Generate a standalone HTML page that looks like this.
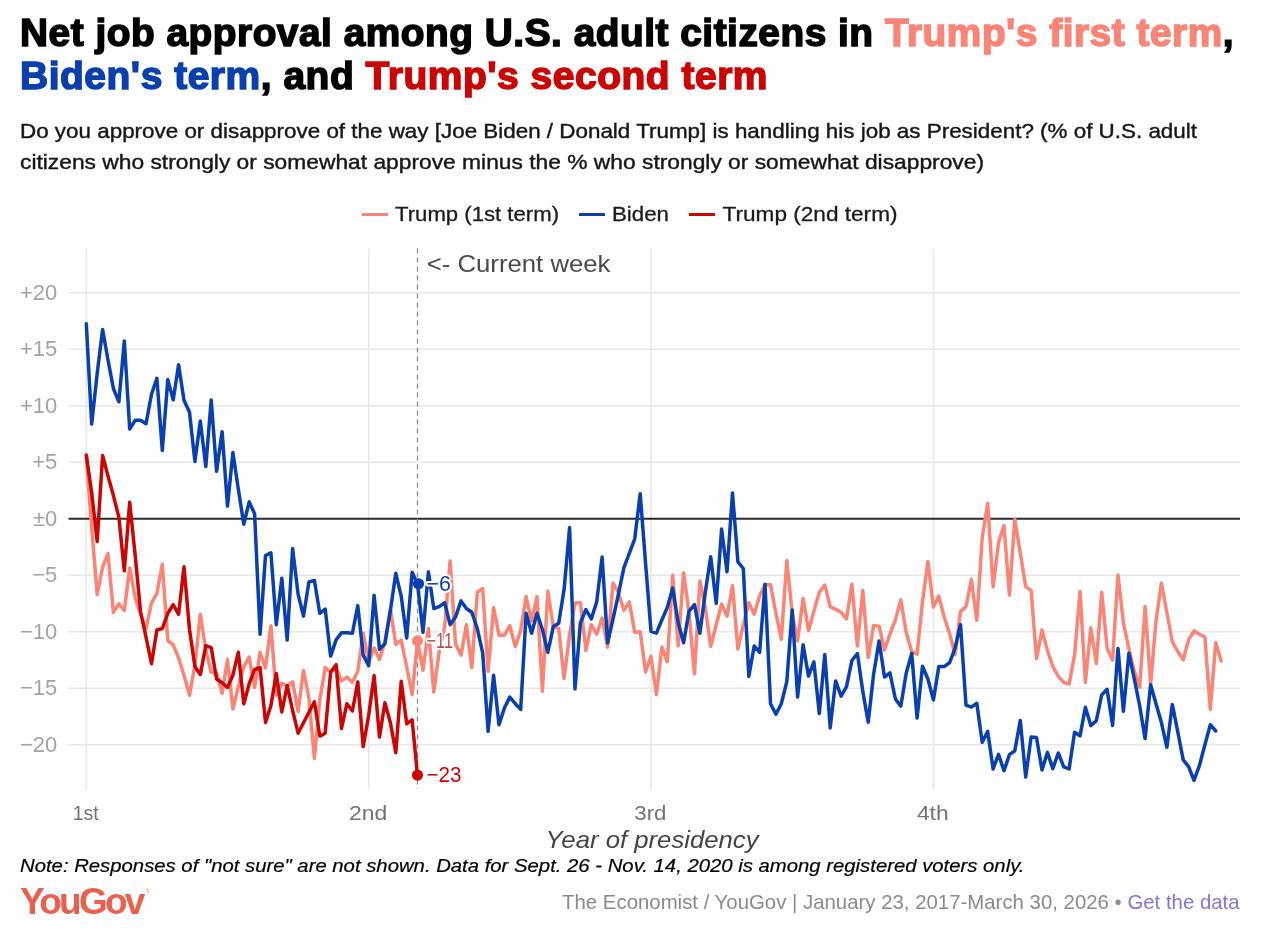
<!DOCTYPE html>
<html><head><meta charset="utf-8"><title>Net job approval</title>
<style>
html,body{margin:0;padding:0;background:#fff}
body{width:1280px;height:946px;position:relative;overflow:hidden;font-family:"Liberation Sans",sans-serif}
.abs{position:absolute;white-space:nowrap}
.title{left:20px;font-weight:bold;font-size:38px;line-height:43px;color:#000;letter-spacing:0.5px;transform-origin:0 0;-webkit-text-stroke:1.5px currentColor}
#t1{top:12px;transform:scaleX(1.0218)}
#t2{top:55px;transform:scaleX(1.0258)}
.sub{left:20px;font-size:20.6px;line-height:30px;color:#161616;transform-origin:0 0;-webkit-text-stroke:0.4px currentColor}
#s1{top:115.9px;transform:scaleX(1.088)}
#s2{top:146.9px;transform:scaleX(1.1067)}
.note{left:20px;top:854.9px;font-size:19px;line-height:22px;font-style:italic;color:#000;transform:scaleX(1.0685);transform-origin:0 0;-webkit-text-stroke:0.2px #000}
.logo{left:20px;top:879.9px;font-size:37px;line-height:44px;font-weight:bold;color:#E9604F;letter-spacing:-2.75px}
.src{right:40px;top:890.8px;font-size:19.8px;line-height:23px;color:#8a8a8a;transform:scaleX(1.0303);transform-origin:100% 0}
.src a{color:#8377D3;text-decoration:none}
</style></head><body>
<svg width="1280" height="946" viewBox="0 0 1280 946" style="position:absolute;left:0;top:0">
<style>
.yl{font:22px "Liberation Sans",sans-serif;fill:#a3a3a3}
.xl{font:21px "Liberation Sans",sans-serif;fill:#727272}
.lab{font:21.5px "Liberation Sans",sans-serif;paint-order:stroke;stroke:#fff;stroke-width:4px;stroke-linejoin:round}
</style>
<line x1="68.5" x2="1240" y1="292.7" y2="292.7" stroke="#e8e8e8" stroke-width="1.6"/><line x1="68.5" x2="1240" y1="349.2" y2="349.2" stroke="#e8e8e8" stroke-width="1.6"/><line x1="68.5" x2="1240" y1="405.7" y2="405.7" stroke="#e8e8e8" stroke-width="1.6"/><line x1="68.5" x2="1240" y1="462.2" y2="462.2" stroke="#e8e8e8" stroke-width="1.6"/><line x1="68.5" x2="1240" y1="575.2" y2="575.2" stroke="#e8e8e8" stroke-width="1.6"/><line x1="68.5" x2="1240" y1="631.7" y2="631.7" stroke="#e8e8e8" stroke-width="1.6"/><line x1="68.5" x2="1240" y1="688.2" y2="688.2" stroke="#e8e8e8" stroke-width="1.6"/><line x1="68.5" x2="1240" y1="744.7" y2="744.7" stroke="#e8e8e8" stroke-width="1.6"/>
<line x1="86.3" x2="86.3" y1="248.5" y2="789" stroke="#e8e8e8" stroke-width="1.6"/><line x1="368.7" x2="368.7" y1="248.5" y2="789" stroke="#e8e8e8" stroke-width="1.6"/><line x1="651.0" x2="651.0" y1="248.5" y2="789" stroke="#e8e8e8" stroke-width="1.6"/><line x1="933.4" x2="933.4" y1="248.5" y2="789" stroke="#e8e8e8" stroke-width="1.6"/>
<line x1="68.5" x2="1240" y1="518.7" y2="518.7" stroke="#2a2a2a" stroke-width="1.9"/>
<line x1="417.5" x2="417.5" y1="248.5" y2="789" stroke="#8a8a8a" stroke-width="1.3" stroke-dasharray="5 4"/>
<text x="57.3" y="299.8" text-anchor="end" class="yl">+20</text><text x="57.3" y="356.3" text-anchor="end" class="yl">+15</text><text x="57.3" y="412.8" text-anchor="end" class="yl">+10</text><text x="57.3" y="469.3" text-anchor="end" class="yl">+5</text><text x="57.3" y="525.8" text-anchor="end" class="yl">±0</text><text x="57.3" y="582.3" text-anchor="end" class="yl">−5</text><text x="57.3" y="638.8" text-anchor="end" class="yl">−10</text><text x="57.3" y="695.3" text-anchor="end" class="yl">−15</text><text x="57.3" y="751.8" text-anchor="end" class="yl">−20</text>
<text x="72.7" y="820" textLength="26" lengthAdjust="spacingAndGlyphs" class="xl">1st</text><text x="348.9" y="820" textLength="38.3" lengthAdjust="spacingAndGlyphs" class="xl">2nd</text><text x="634.3" y="820" textLength="32.2" lengthAdjust="spacingAndGlyphs" class="xl">3rd</text><text x="916.9" y="820" textLength="31.8" lengthAdjust="spacingAndGlyphs" class="xl">4th</text>
<text x="426.7" y="272" textLength="183.8" lengthAdjust="spacingAndGlyphs" style="font:24.5px 'Liberation Sans',sans-serif;fill:#4a4a4a">&lt;- Current week</text>
<path d="M86.3,456.0 L91.7,528.0 L97.2,594.5 L102.6,567.0 L108.0,553.7 L113.4,612.4 L118.9,603.8 L124.3,610.5 L129.7,568.0 L135.2,598.0 L140.6,614.0 L146.0,629.0 L151.5,602.8 L156.9,593.3 L162.3,564.2 L167.8,640.9 L173.2,644.7 L178.6,658.0 L184.0,675.2 L189.5,695.2 L194.9,665.6 L200.3,614.3 L205.8,650.4 L211.2,672.3 L216.6,673.3 L222.1,693.2 L227.5,659.6 L232.9,709.0 L238.3,686.6 L243.8,666.6 L249.2,657.1 L254.6,687.5 L260.1,652.3 L265.5,667.9 L270.9,625.7 L276.3,695.2 L281.8,683.2 L287.2,686.0 L292.6,681.9 L298.1,711.4 L303.5,670.4 L308.9,698.0 L314.4,758.6 L319.8,699.9 L325.2,667.6 L330.6,672.0 L336.1,668.0 L341.5,680.9 L346.9,677.1 L352.4,682.3 L357.8,671.0 L363.2,633.3 L368.7,661.8 L374.1,648.0 L379.5,659.5 L384.9,641.8 L390.4,609.5 L395.8,644.3 L401.2,640.0 L406.7,667.0 L412.1,694.6 L417.5,640.9 L423.0,670.4 L428.4,628.5 L433.8,692.0 L439.2,651.3 L444.7,626.6 L450.1,560.9 L455.5,643.7 L461.0,655.1 L466.4,624.7 L471.8,667.5 L477.3,592.3 L482.7,588.5 L488.1,671.3 L493.6,607.6 L499.0,635.2 L504.4,635.2 L509.8,625.7 L515.3,646.6 L520.7,630.4 L526.1,596.6 L531.6,621.0 L537.0,596.7 L542.4,691.3 L547.8,591.0 L553.3,626.6 L558.7,628.5 L564.1,678.4 L569.6,634.7 L575.0,603.0 L580.4,602.8 L585.9,650.6 L591.3,624.7 L596.7,634.2 L602.1,618.0 L607.6,647.2 L613.0,582.9 L618.4,592.4 L623.9,610.2 L629.3,601.9 L634.7,632.3 L640.2,631.8 L645.6,671.9 L651.0,656.3 L656.4,694.6 L661.9,647.0 L667.3,661.8 L672.7,575.2 L678.2,645.7 L683.6,572.7 L689.0,612.8 L694.5,673.8 L699.9,581.0 L705.3,608.0 L710.7,646.3 L716.2,624.7 L721.6,604.3 L727.0,616.2 L732.5,585.7 L737.9,649.0 L743.3,624.7 L748.8,602.8 L754.2,614.2 L759.6,596.1 L765.0,584.7 L770.5,584.7 L775.9,613.2 L781.3,639.3 L786.8,560.5 L792.2,613.2 L797.6,640.9 L803.1,598.4 L808.5,630.4 L813.9,611.3 L819.3,592.3 L824.8,585.1 L830.2,606.6 L835.6,609.4 L841.1,612.3 L846.5,618.9 L851.9,584.3 L857.4,646.0 L862.8,590.4 L868.2,657.5 L873.6,625.6 L879.1,626.2 L884.5,650.0 L889.9,634.2 L895.4,619.9 L900.8,599.9 L906.2,632.3 L911.7,651.8 L917.1,654.2 L922.5,601.8 L927.9,561.5 L933.4,607.1 L938.8,596.1 L944.2,617.0 L949.7,634.0 L955.1,654.5 L960.5,611.3 L966.0,606.6 L971.4,579.4 L976.8,620.2 L982.2,538.0 L987.7,503.2 L993.1,587.0 L998.5,542.8 L1004.0,525.7 L1009.4,595.1 L1014.8,519.4 L1020.3,553.3 L1025.7,586.6 L1031.1,590.4 L1036.5,658.5 L1042.0,630.0 L1047.4,650.5 L1052.8,666.5 L1058.3,676.3 L1063.7,682.4 L1069.1,684.0 L1074.6,655.0 L1080.0,591.6 L1085.4,682.4 L1090.8,627.8 L1096.3,663.5 L1101.7,592.2 L1107.1,648.2 L1112.6,659.9 L1118.0,575.0 L1123.4,622.5 L1128.9,649.0 L1134.3,671.0 L1139.7,687.1 L1145.1,606.4 L1150.6,684.0 L1156.0,621.0 L1161.4,583.0 L1166.9,612.8 L1172.3,641.7 L1177.7,651.5 L1183.2,659.9 L1188.6,639.9 L1194.0,630.8 L1199.4,634.2 L1204.9,637.1 L1210.3,709.4 L1215.7,642.8 L1221.2,660.9" fill="none" stroke="#FA8476" stroke-width="3.5" stroke-linejoin="round" stroke-linecap="round"/>
<path d="M86.3,323.8 L91.7,424.1 L97.2,373.3 L102.6,329.5 L108.0,360.0 L113.4,388.5 L118.9,401.8 L124.3,340.9 L129.7,429.0 L135.2,420.3 L140.6,420.3 L146.0,423.7 L151.5,394.2 L156.9,378.4 L162.3,450.4 L167.8,379.6 L173.2,399.9 L178.6,364.7 L184.0,400.3 L189.5,412.3 L194.9,461.4 L200.3,420.9 L205.8,466.5 L211.2,399.9 L216.6,471.3 L222.1,431.7 L227.5,506.1 L232.9,452.5 L238.3,489.0 L243.8,524.2 L249.2,501.9 L254.6,513.7 L260.1,634.2 L265.5,555.6 L270.9,552.8 L276.3,624.7 L281.8,578.3 L287.2,640.0 L292.6,548.5 L298.1,594.2 L303.5,616.1 L308.9,581.9 L314.4,580.5 L319.8,613.3 L325.2,609.1 L330.6,656.1 L336.1,639.9 L341.5,632.7 L346.9,632.7 L352.4,633.2 L357.8,605.6 L363.2,655.1 L368.7,665.6 L374.1,595.2 L379.5,649.4 L384.9,643.7 L390.4,610.4 L395.8,573.3 L401.2,596.1 L406.7,638.0 L412.1,572.3 L417.5,583.8 L423.0,632.3 L428.4,571.8 L433.8,608.5 L439.2,606.6 L444.7,602.8 L450.1,624.7 L455.5,617.1 L461.0,600.9 L466.4,608.5 L471.8,612.3 L477.3,628.5 L482.7,653.2 L488.1,731.3 L493.6,675.2 L499.0,724.7 L504.4,708.0 L509.8,697.1 L515.3,703.7 L520.7,709.4 L526.1,613.3 L531.6,633.3 L537.0,613.3 L542.4,629.5 L547.8,652.3 L553.3,626.6 L558.7,623.2 L564.1,589.4 L569.6,527.6 L575.0,688.9 L580.4,622.8 L585.9,609.5 L591.3,619.0 L596.7,601.9 L602.1,557.1 L607.6,642.8 L613.0,619.0 L618.4,594.3 L623.9,567.6 L629.3,553.3 L634.7,539.0 L640.2,493.7 L645.6,563.7 L651.0,631.3 L656.4,633.2 L661.9,619.9 L667.3,607.5 L672.7,588.1 L678.2,622.7 L683.6,642.7 L689.0,611.3 L694.5,604.7 L699.9,633.2 L705.3,592.3 L710.7,556.7 L716.2,603.3 L721.6,529.1 L727.0,571.7 L732.5,492.9 L737.9,561.8 L743.3,568.5 L748.8,676.5 L754.2,646.0 L759.6,652.3 L765.0,584.3 L770.5,703.7 L775.9,714.2 L781.3,703.7 L786.8,681.8 L792.2,610.0 L797.6,697.1 L803.1,644.7 L808.5,676.1 L813.9,661.9 L819.3,713.6 L824.8,654.5 L830.2,727.9 L835.6,680.9 L841.1,696.1 L846.5,686.6 L851.9,660.5 L857.4,653.5 L862.8,691.4 L868.2,722.2 L873.6,674.2 L879.1,640.9 L884.5,677.1 L889.9,672.9 L895.4,699.0 L900.8,706.2 L906.2,673.3 L911.7,653.5 L917.1,718.0 L922.5,666.2 L927.9,679.0 L933.4,699.9 L938.8,666.6 L944.2,666.6 L949.7,662.5 L955.1,648.0 L960.5,624.7 L966.0,705.2 L971.4,707.1 L976.8,703.3 L982.2,742.3 L987.7,731.4 L993.1,768.9 L998.5,754.3 L1004.0,770.8 L1009.4,754.7 L1014.8,750.8 L1020.3,720.4 L1025.7,777.1 L1031.1,737.1 L1036.5,737.5 L1042.0,770.0 L1047.4,752.4 L1052.8,768.6 L1058.3,753.0 L1063.7,766.8 L1069.1,769.0 L1074.6,732.3 L1080.0,735.8 L1085.4,707.3 L1090.8,725.6 L1096.3,720.7 L1101.7,695.0 L1107.1,689.3 L1112.6,725.5 L1118.0,648.4 L1123.4,711.3 L1128.9,653.3 L1134.3,679.0 L1139.7,706.0 L1145.1,738.6 L1150.6,684.7 L1156.0,703.7 L1161.4,722.6 L1166.9,747.3 L1172.3,704.4 L1177.7,731.4 L1183.2,759.9 L1188.6,766.6 L1194.0,780.3 L1199.4,765.6 L1204.9,744.7 L1210.3,724.7 L1215.7,731.0" fill="none" stroke="#0A3FAE" stroke-width="3.5" stroke-linejoin="round" stroke-linecap="round"/>
<path d="M86.3,455.0 L91.7,493.0 L97.2,541.4 L102.6,455.5 L108.0,476.0 L113.4,495.5 L118.9,517.5 L124.3,570.8 L129.7,502.3 L135.2,555.6 L140.6,612.0 L146.0,637.1 L151.5,663.7 L156.9,629.9 L162.3,628.5 L167.8,613.3 L173.2,604.7 L178.6,614.3 L184.0,566.7 L189.5,629.5 L194.9,666.6 L200.3,674.6 L205.8,645.7 L211.2,647.6 L216.6,679.0 L222.1,682.8 L227.5,687.5 L232.9,675.2 L238.3,652.3 L243.8,703.7 L249.2,683.7 L254.6,669.5 L260.1,667.6 L265.5,722.4 L270.9,705.6 L276.3,673.6 L281.8,712.0 L287.2,685.7 L292.6,710.5 L298.1,733.2 L303.5,722.8 L308.9,712.3 L314.4,701.8 L319.8,736.1 L325.2,733.2 L330.6,672.3 L336.1,664.7 L341.5,728.5 L346.9,703.7 L352.4,711.0 L357.8,681.9 L363.2,746.6 L368.7,715.2 L374.1,675.6 L379.5,737.1 L384.9,702.8 L390.4,722.8 L395.8,752.7 L401.2,681.3 L406.7,723.7 L412.1,719.9 L417.5,775.1" fill="none" stroke="#CB0404" stroke-width="3.5" stroke-linejoin="round" stroke-linecap="round"/>
<circle cx="417.5" cy="640.9" r="5.6" fill="#FA8476"/>
<circle cx="418.5" cy="583.8" r="5.6" fill="#0A3FAE"/>
<circle cx="417.5" cy="775.1" r="5.6" fill="#CB0404"/>
<text x="426.5" y="648" textLength="26.5" lengthAdjust="spacingAndGlyphs" class="lab" fill="#B2524D">−11</text>
<text x="426.5" y="590.5" class="lab" fill="#0A3FAE">−6</text>
<text x="426.5" y="782" textLength="35" lengthAdjust="spacingAndGlyphs" class="lab" fill="#CB0404">−23</text>
<text x="545.6" y="847.5" textLength="213" lengthAdjust="spacingAndGlyphs" style="font:italic 24px 'Liberation Sans',sans-serif;fill:#444">Year of presidency</text>
<g>
<line x1="362" x2="388" y1="214.5" y2="214.5" stroke="#FA8476" stroke-width="3"/>
<text x="395" y="221" textLength="164" lengthAdjust="spacingAndGlyphs" style="font:21px 'Liberation Sans',sans-serif;fill:#1a1a1a;stroke:#1a1a1a;stroke-width:0.3px">Trump (1st term)</text>
<line x1="579" x2="605" y1="214.5" y2="214.5" stroke="#0A3FAE" stroke-width="3"/>
<text x="612" y="221" textLength="57" lengthAdjust="spacingAndGlyphs" style="font:21px 'Liberation Sans',sans-serif;fill:#1a1a1a;stroke:#1a1a1a;stroke-width:0.3px">Biden</text>
<line x1="689" x2="715" y1="214.5" y2="214.5" stroke="#CB0404" stroke-width="3"/>
<text x="722.5" y="221" textLength="175" lengthAdjust="spacingAndGlyphs" style="font:21px 'Liberation Sans',sans-serif;fill:#1a1a1a;stroke:#1a1a1a;stroke-width:0.3px">Trump (2nd term)</text>
</g>
</svg>
<div class="abs title" id="t1">Net job approval among U.S. adult citizens in <span style="color:#FA8476">Trump's first term</span>,</div>
<div class="abs title" id="t2"><span style="color:#0A3FAE">Biden's term</span>, and <span style="color:#CB0404">Trump's second term</span></div>
<div class="abs sub" id="s1">Do you approve or disapprove of the way [Joe Biden / Donald Trump] is handling his job as President? (% of U.S. adult</div>
<div class="abs sub" id="s2">citizens who strongly or somewhat approve minus the % who strongly or somewhat disapprove)</div>
<div class="abs note" id="note">Note: Responses of "not sure" are not shown. Data for Sept. 26 - Nov. 14, 2020 is among registered voters only.</div>
<div class="abs logo" id="logo">YouGov<span style="position:absolute;left:125.5px;top:8.5px;font-size:6px;line-height:6px;font-weight:normal;letter-spacing:0;opacity:.8">®</span></div>
<div class="abs src" id="src">The Economist / YouGov | January 23, 2017-March 30, 2026 • <a>Get the data</a></div>
</body></html>
